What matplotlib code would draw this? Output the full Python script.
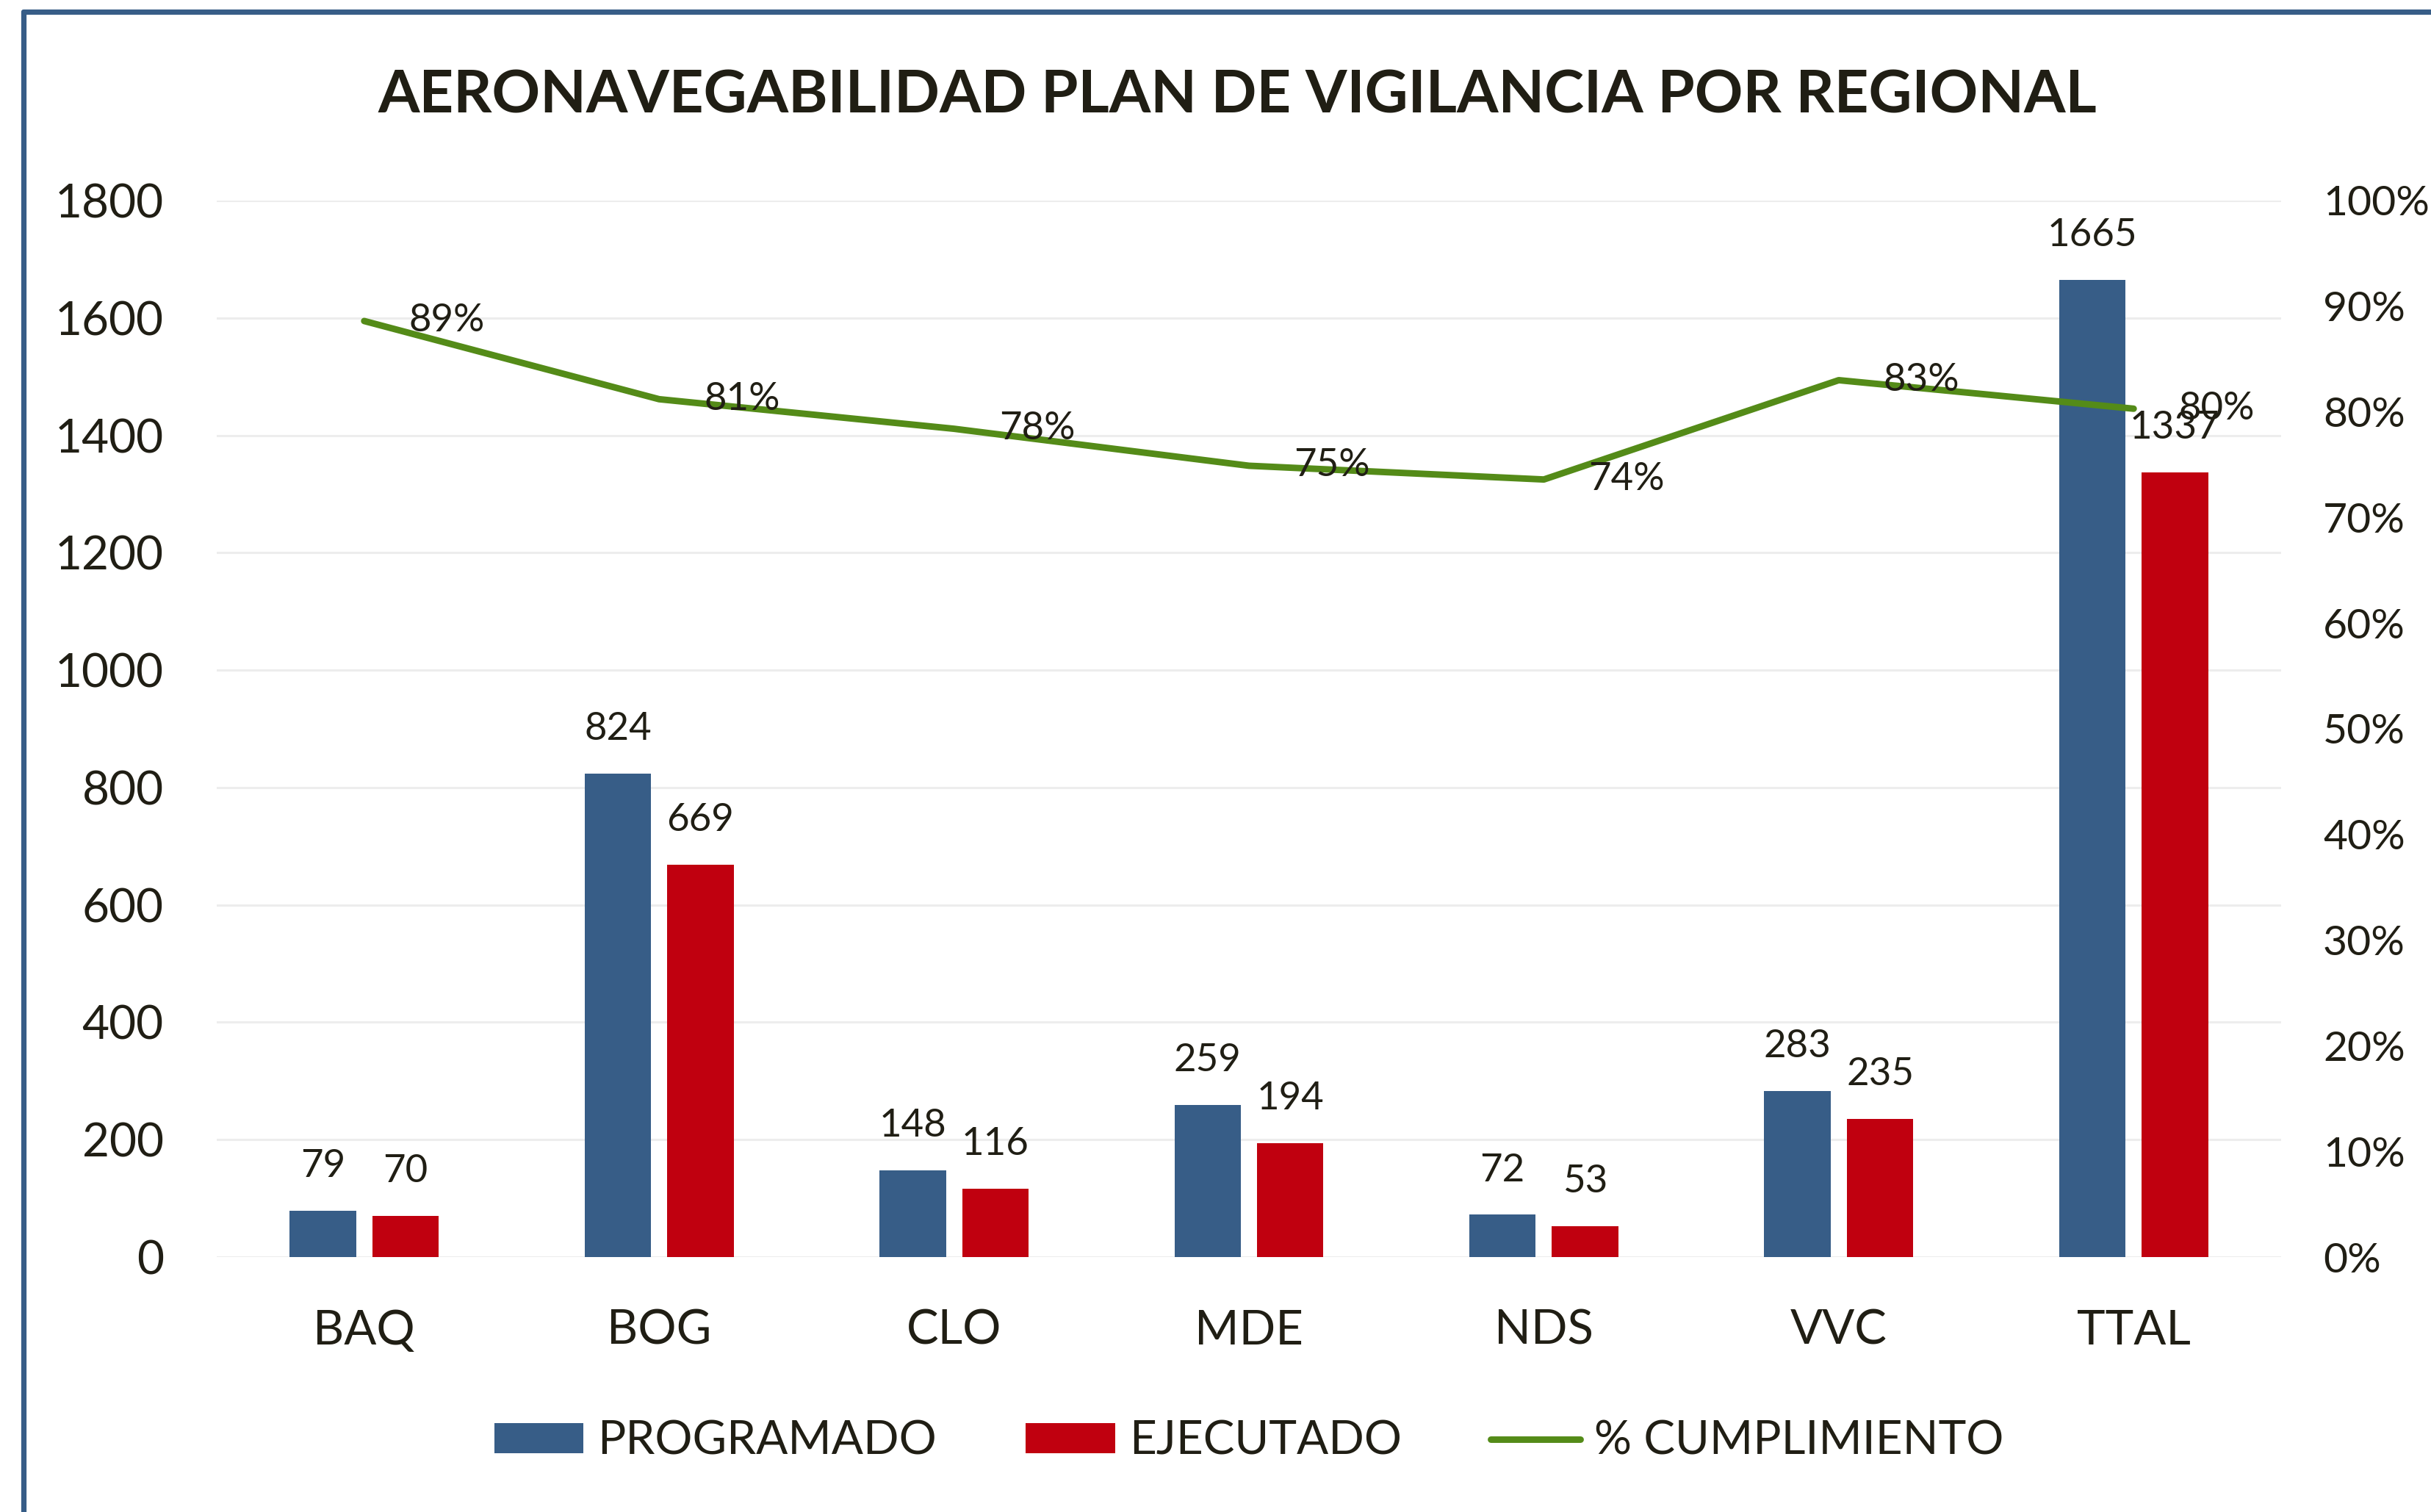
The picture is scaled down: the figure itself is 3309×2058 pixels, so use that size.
import matplotlib
matplotlib.use("Agg")
import matplotlib.pyplot as plt
from matplotlib.lines import Line2D
from matplotlib.ticker import FuncFormatter
import numpy as np

plt.rcParams['font.family'] = ['Lato', 'DejaVu Sans']

categories = ["BAQ", "BOG", "CLO", "MDE", "NDS", "VVC", "TTAL"]
programado = [79, 824, 148, 259, 72, 283, 1665]
ejecutado = [70, 669, 116, 194, 53, 235, 1337]
cumplimiento = [0.886, 0.812, 0.784, 0.749, 0.736, 0.830, 0.803]

title = "AERONAVEGABILIDAD PLAN DE VIGILANCIA POR REGIONAL"
series_names = ["PROGRAMADO", "EJECUTADO", "% CUMPLIMIENTO"]

C_BLUE = "#375D87"
C_RED = "#C0000F"
C_GREEN = "#548B18"
C_TEXT = "#201E14"
C_GRID = "#EDEDED"

W, H, DPI = 3309, 2058, 200
fig = plt.figure(figsize=(W / DPI, H / DPI), dpi=DPI)
fig.patch.set_facecolor("white")

ax = fig.add_axes([295 / W, 1 - 1711 / H, (3105 - 295) / W, (1711 - 273) / H])
ax2 = ax.twinx()

x = np.arange(len(categories))
bw = 0.225
off = 0.14
b1 = ax.bar(x - off, programado, bw, color=C_BLUE, zorder=2, label=series_names[0])
b2 = ax.bar(x + off, ejecutado, bw, color=C_RED, zorder=2, label=series_names[1])

ax.set_xlim(-0.5, len(categories) - 0.5)
ax.set_ylim(0, 1800)
ax.set_yticks(np.arange(0, 1801, 200))
ax.grid(axis="y", color=C_GRID, linewidth=1.1, zorder=0)
ax.set_axisbelow(True)
for s in ax.spines.values():
    s.set_visible(False)
for s in ax2.spines.values():
    s.set_visible(False)
ax.tick_params(axis="y", length=0, pad=26, labelsize=23, labelcolor=C_TEXT)
ax.tick_params(axis="x", length=0, pad=25.5, labelsize=23.5, labelcolor=C_TEXT)
ax.set_xticks(x)
ax.set_xticklabels(categories)

for rect, v in zip(b1, programado):
    ax.annotate(str(v), (rect.get_x() + rect.get_width() / 2, v), xytext=(0, 16.5),
                textcoords="offset points", ha="center", va="baseline",
                fontsize=19, color=C_TEXT, zorder=5)
for rect, v in zip(b2, ejecutado):
    ax.annotate(str(v), (rect.get_x() + rect.get_width() / 2, v), xytext=(0, 16.5),
                textcoords="offset points", ha="center", va="baseline",
                fontsize=19, color=C_TEXT, zorder=5)

ln, = ax2.plot(x, cumplimiento, color=C_GREEN, linewidth=3.2, zorder=4,
               solid_capstyle="round", label=series_names[2])
ax2.set_ylim(0, 1.0)
ax2.set_yticks(np.arange(0, 1.01, 0.1))
ax2.yaxis.set_major_formatter(FuncFormatter(lambda v, p: f"{v*100:.0f}%"))
ax2.tick_params(axis="y", length=0, pad=20.5, labelsize=20.5, labelcolor=C_TEXT)
for xi, v in zip(x, cumplimiento):
    ax2.annotate(f"{v*100:.0f}%", (xi, v), xytext=(22, 0), textcoords="offset points",
                 ha="left", va="center", fontsize=19, color=C_TEXT, zorder=6)

fig.text(0.509, 1 - 131 / H, title, ha="center", va="center", fontsize=29.3,
         fontweight="bold", color=C_TEXT)

handles = [b1, b2, ln]
leg = fig.legend(handles, series_names, loc="center", bbox_to_anchor=(0.5137, 1 - 1962 / H),
                 ncol=3, frameon=False, fontsize=23, handlelength=1.9, handleheight=0.6,
                 handletextpad=0.3, columnspacing=1.9, labelcolor=C_TEXT)

# frame border (left and top)
fig.add_artist(Line2D([32 / W, 32 / W], [0, 1 - 16 / H], color=C_BLUE, linewidth=2.6,
                      transform=fig.transFigure, solid_capstyle="round"))
fig.add_artist(Line2D([32 / W, 1.0], [1 - 16 / H, 1 - 16 / H], color=C_BLUE, linewidth=2.6,
                      transform=fig.transFigure, solid_capstyle="round"))

fig.savefig("out.png", dpi=DPI, facecolor="white")
